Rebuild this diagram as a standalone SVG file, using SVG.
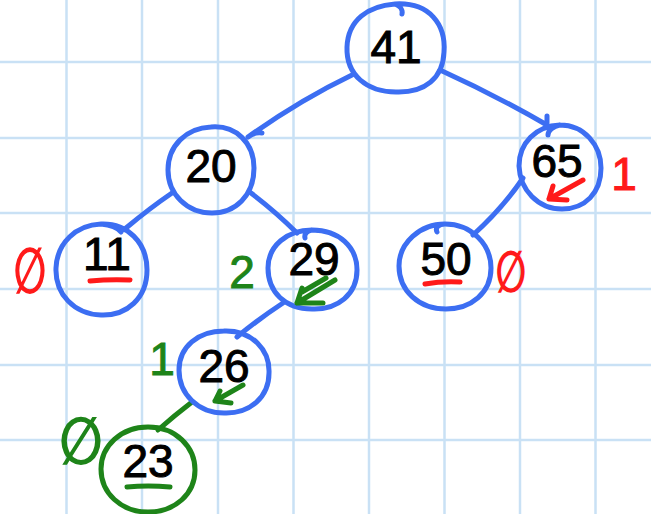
<svg xmlns="http://www.w3.org/2000/svg" width="651" height="514" viewBox="0 0 651 514">
<style>
.grid line{stroke:#c9e1f5;stroke-width:2.5}
.blue{fill:none;stroke:#3c6ef2;stroke-width:5;stroke-linecap:round;stroke-linejoin:round}
.green{fill:none;stroke:#1e8419;stroke-width:5;stroke-linecap:round;stroke-linejoin:round}
.red{fill:none;stroke:#ff1a1a;stroke-width:5;stroke-linecap:round;stroke-linejoin:round}
.num{font-family:"Liberation Sans","DejaVu Sans",sans-serif;font-size:46px;fill:#000;stroke:#000;stroke-width:1;text-anchor:middle}
.rt{font-family:"Liberation Sans","DejaVu Sans",sans-serif;font-size:46px;fill:#ff1a1a;stroke:#ff1a1a;stroke-width:1;text-anchor:middle}
.gt{font-family:"Liberation Sans","DejaVu Sans",sans-serif;font-size:46px;fill:#1e8419;stroke:#1e8419;stroke-width:1;text-anchor:middle}
.empty{font-family:"DejaVu Sans","Liberation Sans",sans-serif;font-weight:bold;text-anchor:middle}
</style>
<rect width="651" height="514" fill="#ffffff"/>
<g class="grid">
<line x1="66.5" y1="0" x2="66.5" y2="514"/>
<line x1="142" y1="0" x2="142" y2="514"/>
<line x1="218" y1="0" x2="218" y2="514"/>
<line x1="293.5" y1="0" x2="293.5" y2="514"/>
<line x1="369" y1="0" x2="369" y2="514"/>
<line x1="444.5" y1="0" x2="444.5" y2="514"/>
<line x1="520" y1="0" x2="520" y2="514"/>
<line x1="595.5" y1="0" x2="595.5" y2="514"/>
<line x1="0" y1="62" x2="651" y2="62"/>
<line x1="0" y1="138" x2="651" y2="138"/>
<line x1="0" y1="213" x2="651" y2="213"/>
<line x1="0" y1="289" x2="651" y2="289"/>
<line x1="0" y1="365" x2="651" y2="365"/>
<line x1="0" y1="440" x2="651" y2="440"/>
</g>
<g id="connectors">
<path class="blue" d="M352,75 Q300,100 248,137 M248,137 Q254,132 262,133"/>
<path class="blue" d="M440,70 Q495,95 547,125 M547,125 L547,116"/>
<path class="blue" d="M172,193 Q150,208 126,228"/>
<path class="blue" d="M251,193 Q276,212 297,233"/>
<path class="blue" d="M523,178 Q503,208 473,235"/>
<path class="blue" d="M283,303 Q260,318 237,337"/>
<path class="green" d="M192,402 Q175,415 158,430"/>
</g>
<g id="node-41">
<path class="blue" d="M395,4 C430,2 446,25 444,52 C443,78 425,93 396,92 C367,92 346,75 347,47 C348,20 368,6 395,4 C400,6 403,10 402,14"/>
<text class="num" x="396" y="63">41</text>
</g>
<g id="node-20">
<path class="blue" d="M211,127 C236,125 254,143 254,168 C254,196 235,213 212,213 C187,213 168,194 168,170 C168,146 186,128 211,127"/>
<text class="num" x="211" y="182">20</text>
</g>
<g id="node-65">
<path class="blue" d="M560,125 C584,125 601,145 601,168 C601,193 585,209 562,209 C538,209 520,190 519,166 C519,143 536,126 560,125 C553,126 548,131 548,135"/>
<text class="num" x="557" y="177">65</text>
<path class="red" d="M583,180 L549,199 M549,199 L553,186 M549,199 L567,200"/>
<text class="rt" x="624" y="190">1</text>
</g>
<g id="node-11">
<path class="blue" d="M101,224 C127,223 147,242 147,270 C147,298 127,316 101,315 C74,314 55,294 56,268 C57,243 76,225 101,224 C110,225 118,228 121,232"/>
<text class="num" x="107" y="270">11</text>
<path class="red" d="M90,281 Q110,279 130,280"/>
<text class="empty" transform="translate(30,293) scale(0.6,1)" font-size="64" fill="#ff1a1a">∅</text>
</g>
<g id="node-29">
<path class="blue" d="M312,230 C339,230 357,247 357,270 C357,294 338,310 312,309 C285,309 268,292 268,268 C268,246 287,230 312,230 C307,231 304,234 305,238"/>
<text class="num" x="314" y="275">29</text>
<path class="green" d="M335,280 L297,303 M326,278 L302,292 M297,303 L302,288 M297,303 L323,303"/>
<text class="gt" x="242" y="288">2</text>
</g>
<g id="node-50">
<path class="blue" d="M445,224 C471,224 491,244 491,268 C491,293 471,309 446,309 C419,309 399,291 399,266 C399,243 420,224 445,224 C438,224 435,228 437,232"/>
<text class="num" x="446" y="275">50</text>
<path class="red" d="M425,284 Q442,281 460,282"/>
<text class="empty" transform="translate(511,292) scale(0.62,1)" font-size="58" fill="#ff1a1a">∅</text>
</g>
<g id="node-26">
<path class="blue" d="M224,331 C252,330 270,350 269,373 C269,397 250,414 224,413 C198,413 179,394 179,370 C179,347 198,331 224,331"/>
<text class="num" x="224" y="382">26</text>
<path class="green" d="M243,385 L215,401 M215,401 L220,391 M215,401 L231,403"/>
<text class="gt" x="162" y="375">1</text>
</g>
<g id="node-23">
<path class="green" d="M148,427 C176,427 195,447 195,470 C195,494 175,512 148,512 C121,512 101,493 101,469 C101,446 121,427 148,427"/>
<text class="num" x="148" y="477">23</text>
<path class="green" d="M127,487 Q148,485 170,487"/>
<text class="empty" transform="translate(81,464) scale(0.78,1)" font-size="66" fill="#1e8419">∅</text>
</g>
</svg>
